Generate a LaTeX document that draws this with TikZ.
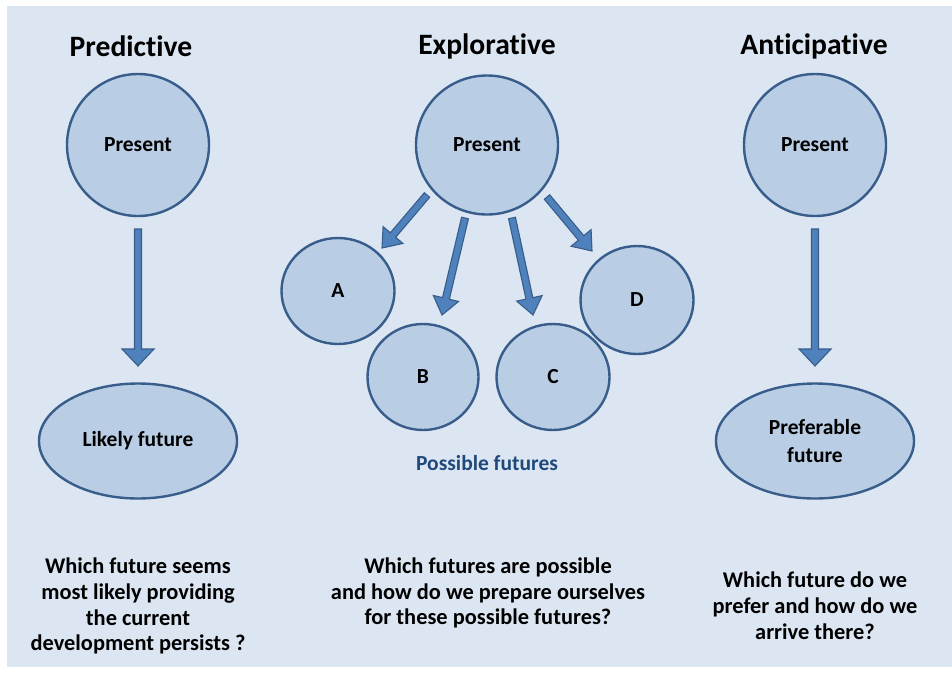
\documentclass[tikz,border=0pt]{standalone}
\usepackage{fontspec}
\setmainfont{Carlito}[Ligatures=NoCommon]
\usetikzlibrary{shapes.geometric,calc}
\definecolor{bgblue}{HTML}{DCE6F2}
\definecolor{nodefill}{HTML}{B9CDE5}
\definecolor{nodeedge}{HTML}{385D8A}
\definecolor{arrowfill}{HTML}{4F81BD}
\definecolor{labelblue}{HTML}{1F497D}
% #1 start, #2 tip, #3 half head width (pt), #4 head length (pt)
\newcommand\blockarrow[4]{%
  \draw[blockarrowstyle] let \p1=($(#2)-(#1)$), \n1={atan2(\y1,\x1)}, \n2={veclen(\x1,\y1)-#4} in
   ($(#1)+(\n1+90:3.5pt)$) -- ($(#1)+(\n1+90:3.5pt)+(\n1:\n2)$)
   -- ($(#1)+(\n1+90:#3pt)+(\n1:\n2)$) -- (#2)
   -- ($(#1)+(\n1-90:#3pt)+(\n1:\n2)$) -- ($(#1)+(\n1-90:3.5pt)+(\n1:\n2)$)
   -- ($(#1)+(\n1-90:3.5pt)$) -- cycle;}
\tikzset{
  blockarrowstyle/.style={fill=arrowfill, draw=nodeedge, line width=1.1pt, line join=miter},
  titletext/.style={font=\bfseries\fontsize{29.6}{34}\selectfont, inner sep=0pt},
  bubble/.style={ellipse, fill=nodefill, draw=nodeedge, line width=2.4pt, inner sep=0pt,
     font=\bfseries\fontsize{21.5}{26}\selectfont, align=center},
  question/.style={font=\bfseries\fontsize{22.4}{25.8}\selectfont, align=center, inner sep=0pt},
}
\begin{document}
\begin{tikzpicture}[x=1pt,y=-1pt]
\useasboundingbox (0,0) rectangle (952,675);
\fill[bgblue] (7,6) rectangle (952,667);

% Titles
\node[titletext] (t1) at (131,46) {Predictive};
\node[titletext] (t2) at (487,46) {Explorative};
\node[titletext] (t3) at (814,46) {Anticipative};

% Predictive column
\node[bubble, minimum width=142, minimum height=142] (p1) at (138,145) {Present};
\node[bubble, minimum width=198, minimum height=115] (lf) at (138,441) {Likely future};
\coordinate (a1s) at (138,229);
\coordinate (a1t) at (138,366);
\blockarrow{a1s}{a1t}{16}{17}

% Explorative column
\node[bubble, minimum width=142, minimum height=139] (p2) at (487,145) {Present};
\node[bubble, minimum width=113, minimum height=106] (fa) at (338,291) {A};
\node[bubble, minimum width=111, minimum height=106] (fb) at (423,377) {B};
\node[bubble, minimum width=113, minimum height=106] (fc) at (553,377) {C};
\node[bubble, minimum width=113, minimum height=108] (fd) at (637,300) {D};
\node[font=\bfseries\fontsize{21.5}{26}\selectfont, text=labelblue, inner sep=0pt] (pf) at (487,463) {Possible futures};
\coordinate (bas) at (427,195);
\coordinate (bat) at (382,248);
\coordinate (bbs) at (465,218);
\coordinate (bbt) at (442,315);
\coordinate (bcs) at (512,218);
\coordinate (bct) at (533,315);
\coordinate (bds) at (547,197);
\coordinate (bdt) at (592,251);
\blockarrow{bas}{bat}{13}{17}
\blockarrow{bbs}{bbt}{13}{17}
\blockarrow{bcs}{bct}{13}{17}
\blockarrow{bds}{bdt}{13}{17}

% Anticipative column
\node[bubble, minimum width=142, minimum height=142] (p3) at (815,145) {Present};
\node[bubble, minimum width=198, minimum height=115] (pr) at (815,441) {Preferable\\[2pt]future};
\coordinate (a3s) at (815,229);
\coordinate (a3t) at (815,366);
\blockarrow{a3s}{a3t}{16}{17}

% Questions
\node[question] (q1) at (138,606) {Which future seems\\most likely providing\\the current\\development persists ?};
\node[question] (q2) at (488,593) {Which futures are possible\\and how do we prepare ourselves\\for these possible futures?};
\node[question] (q3) at (815,606) {Which future do we\\prefer and how do we\\arrive there?};
\end{tikzpicture}
\end{document}
